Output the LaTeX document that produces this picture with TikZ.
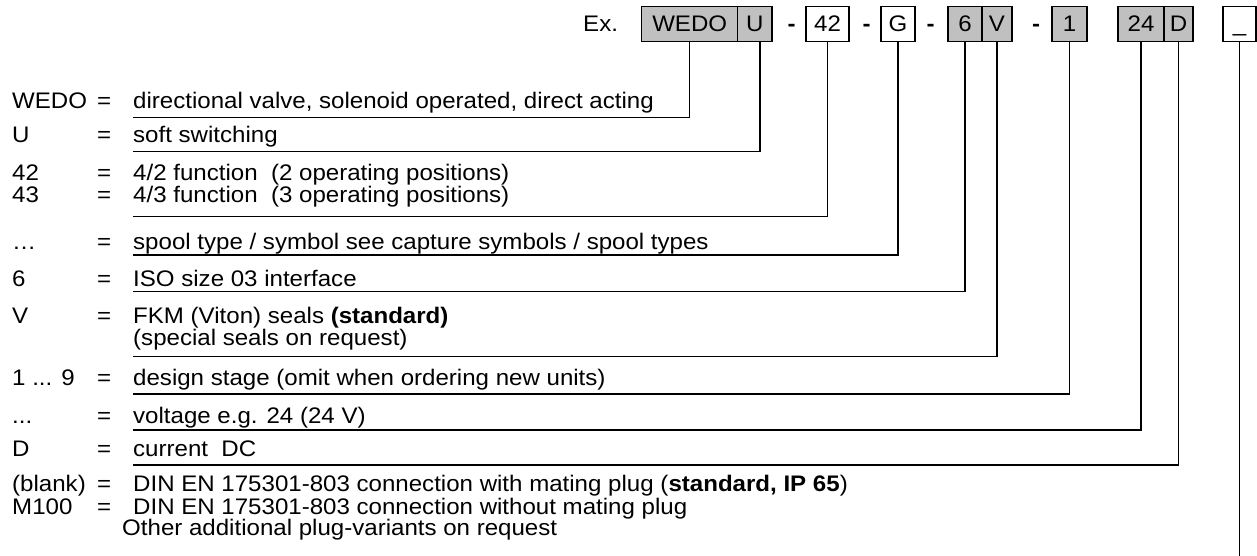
\documentclass[tikz,border=0pt]{standalone}
\usepackage{fontspec}
\setmainfont[FakeStretch = 1.07]{Liberation Sans}

\definecolor{cellgray}{RGB}{192,192,192}

\tikzset{
	graycell/.style = {draw = black, fill = cellgray, line width = 1.3pt,
					   minimum height = 35pt, inner sep = 0pt,
					   text height = 16pt, text depth = 0pt},
	whitecell/.style = {graycell, fill = white},
	hyph/.style = {anchor = base, inner sep = 0pt, font = \fontsize{22.5}{22.5}\selectfont\bfseries},
	entry/.style = {anchor = base west, inner sep = 0pt},
	lead/.style = {line width = 1.3pt}
}

\begin{document}
\begin{tikzpicture}[x = 1pt, y = -1pt, font = \fontsize{22.5}{22.5}\selectfont]

	\useasboundingbox (0,0) rectangle (1257,556);

	\draw (583,32) node[entry] (ex) {Ex.};

	\draw (689.7,24) node[graycell, minimum width = 96pt] (cWEDO) {WEDO};
	\draw (754.9,24) node[graycell, minimum width = 34.3pt] (cU) {U};
	\draw (791.7,32) node[hyph] (h1) {-};
	\draw (827.5,24) node[whitecell, minimum width = 43pt] (cFunc) {42};
	\draw (866.7,32) node[hyph] (h2) {-};
	\draw (898,24) node[whitecell, minimum width = 34pt] (cSpool) {G};
	\draw (930.7,32) node[hyph] (h3) {-};
	\draw (965,24) node[graycell, minimum width = 34pt] (cSize) {6};
	\draw (997,24) node[graycell, minimum width = 30pt] (cSeal) {V};
	\draw (1036,32) node[hyph] (h4) {-};
	\draw (1069.5,24) node[graycell, minimum width = 35pt] (cStage) {1};
	\draw (1141,24) node[graycell, minimum width = 46pt] (cVolt) {24};
	\draw (1178.5,24) node[graycell, minimum width = 29pt] (cCurr) {D};
	\draw (1239.5,24) node[whitecell, minimum width = 33pt] (cPlug) {\_};

	\draw (12,109) node[entry] (lWEDO) {WEDO};
	\draw (97,109) node[entry] (eWEDO) {=};
	\draw (133,109) node[entry] (dWEDO) {directional valve, solenoid operated, direct acting};

	\draw (12,143) node[entry] (lU) {U};
	\draw (97,143) node[entry] (eU) {=};
	\draw (133,143) node[entry] (dU) {soft switching};

	\draw (12,180) node[entry] (lFunc) {42};
	\draw (97,180) node[entry] (eFunc) {=};
	\draw (133,180) node[entry] (dFunc) {4/2 function\ \ (2 operating positions)};
	\draw (12,202.5) node[entry] (lFuncB) {43};
	\draw (97,202.5) node[entry] (eFuncB) {=};
	\draw (133,202.5) node[entry] (dFuncB) {4/3 function\ \ (3 operating positions)};

	\draw (12,249) node[entry] (lSpool) {…};
	\draw (97,249) node[entry] (eSpool) {=};
	\draw (133,249) node[entry] (dSpool) {spool type / symbol see capture symbols / spool types};

	\draw (12,286) node[entry] (lSize) {6};
	\draw (97,286) node[entry] (eSize) {=};
	\draw (133,286) node[entry] (dSize) {ISO size 03 interface};

	\draw (12,323.5) node[entry] (lSeal) {V};
	\draw (97,323.5) node[entry] (eSeal) {=};
	\draw (133,323.5) node[entry] (dSeal) {FKM (Viton) seals \textbf{(standard)}};
	\draw (133,345) node[entry] (dSealB) {(special seals on request)};

	\draw (12,385) node[entry] (lStage) {1 ... 9};
	\draw (97,385) node[entry] (eStage) {=};
	\draw (133,385) node[entry] (dStage) {design stage (omit when ordering new units)};

	\draw (12,423.3) node[entry] (lVolt) {...};
	\draw (97,423.3) node[entry] (eVolt) {=};
	\draw (133,423.3) node[entry] (dVolt) {voltage e.g. 24 (24 V)};

	\draw (12,456.7) node[entry] (lCurr) {D};
	\draw (97,456.7) node[entry] (eCurr) {=};
	\draw (133,456.7) node[entry] (dCurr) {current\ \ DC};

	\draw (12,491.7) node[entry] (lPlug) {(blank)};
	\draw (97,491.7) node[entry] (ePlug) {=};
	\draw (133,491.7) node[entry] (dPlug) {DIN EN 175301-803 connection with mating plug (\textbf{standard, IP 65})};
	\draw (12,514) node[entry] (lPlugB) {M100};
	\draw (97,514) node[entry] (ePlugB) {=};
	\draw (133,514) node[entry] (dPlugB) {DIN EN 175301-803 connection without mating plug};
	\draw (122,535.7) node[entry] (dPlugC) {Other additional plug-variants on request};

	\coordinate (uWEDO) at (133,117.7);
	\coordinate (uU) at (133,151.7);
	\coordinate (uFunc) at (133,216.7);
	\coordinate (uSpool) at (133,255);
	\coordinate (uSize) at (133,291.7);
	\coordinate (uSeal) at (133,356.7);
	\coordinate (uStage) at (133,394);
	\coordinate (uVolt) at (133,430);
	\coordinate (uCurr) at (133,465);
	\coordinate (uPlug) at (1239.5,556);

	\draw[lead] (uWEDO) -| (cWEDO.south);
	\draw[lead] (uU) -| ([xshift = 5pt]cU.south);
	\draw[lead] (uFunc) -| (cFunc.south);
	\draw[lead] (uSpool) -| (cSpool.south);
	\draw[lead] (uSize) -| (cSize.south);
	\draw[lead] (uSeal) -| (cSeal.south);
	\draw[lead] (uStage) -| (cStage.south);
	\draw[lead] (uVolt) -| (cVolt.south);
	\draw[lead] (uCurr) -| (cCurr.south);
	\draw[lead] (cPlug.south) -- (uPlug);
\end{tikzpicture}
\end{document}
